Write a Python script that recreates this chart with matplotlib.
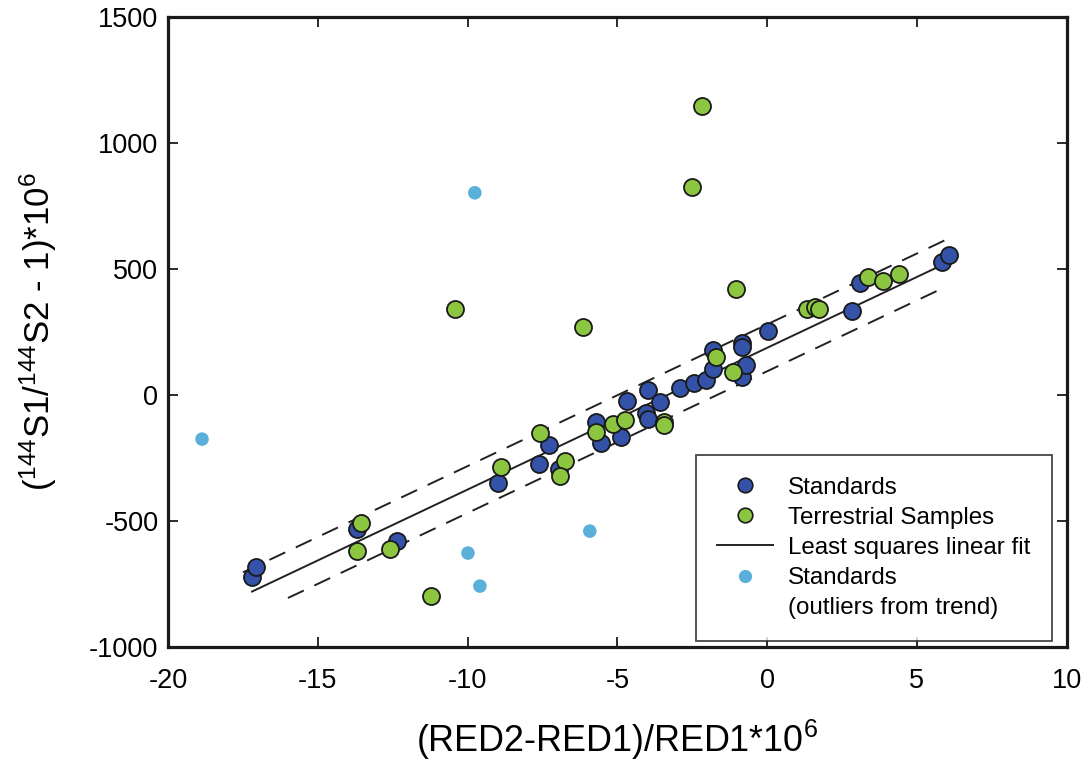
import numpy as np
import matplotlib
matplotlib.use('Agg')
import matplotlib.pyplot as plt
from matplotlib.lines import Line2D

plt.rcParams['font.family'] = ['Liberation Sans', 'DejaVu Sans']
plt.rcParams['mathtext.fontset'] = 'custom'
plt.rcParams['mathtext.rm'] = 'Liberation Sans'
plt.rcParams['mathtext.it'] = 'Liberation Sans:italic'
plt.rcParams['mathtext.bf'] = 'Liberation Sans:bold'
plt.rcParams['axes.unicode_minus'] = False

# 标准样品
std_x = [-17.2, -17.06, -13.69, -12.36, -8.99, -7.62, -7.29, -6.95, -5.72, -5.55,
         -4.88, -4.68, -4.05, -3.98, -3.98, -3.58, -2.92, -2.45, -2.05, -1.81,
         -1.81, -0.85, -0.85, -0.85, -0.71, 0.02, 2.82, 3.09, 5.83, 6.06]
std_y = [-722, -683, -532, -579, -349, -274, -198, -294, -107, -190,
         -167, -24, -71, -95, 20, -28, 28, 48, 60, 179,
         103, 206, 192, 71, 119, 254, 333, 444, 528, 556]

# 地球样品
grn_x = [-13.56, -13.69, -12.59, -11.22, -10.42, -8.89, -7.59, -6.75, -6.92, -6.15,
         -5.72, -5.15, -4.75, -3.45, -3.45, -2.52, -2.18, -1.72, -1.15, -1.05,
         1.32, 1.59, 1.72, 3.36, 3.86, 4.39]
grn_y = [-508, -619, -611, -798, 341, -286, -151, -262, -321, 270,
         -147, -115, -99, -107, -119, 825, 1147, 151, 91, 421,
         341, 349, 341, 468, 452, 480]

# 离群点
out_x = [-18.87, -9.76, -5.92, -9.99, -9.59]
out_y = [-175, 802, -540, -627, -758]

# 拟合直线
fit_slope = 56.2
fit_intercept = 187
band = 93
fit_range = [-17.2, 6.0]
upper_range = [-17.5, 6.0]
lower_range = [-16.0, 6.0]

c_std = '#3352a8'
c_grn = '#8cc640'
c_out = '#5ab0d8'

fig = plt.figure(figsize=(10.85, 7.64), dpi=100)
ax = fig.add_axes([0.155, 0.153, 0.828, 0.825])

xf = np.array(fit_range)
ax.plot(xf, fit_slope * xf + fit_intercept, color='#222222', lw=1.4, zorder=2)
xu = np.array(upper_range)
ax.plot(xu, fit_slope * xu + fit_intercept + band, color='#222222', lw=1.4,
        dashes=(9, 6), zorder=2)
xl = np.array(lower_range)
ax.plot(xl, fit_slope * xl + fit_intercept - band, color='#222222', lw=1.4,
        dashes=(9, 6), zorder=2)

ax.scatter(std_x, std_y, s=150, c=c_std, edgecolors='#1a1a1a', linewidths=1.3, zorder=3)
ax.scatter(grn_x, grn_y, s=150, c=c_grn, edgecolors='#1a1a1a', linewidths=1.3, zorder=4)
ax.scatter(out_x, out_y, s=95, c=c_out, edgecolors='none', zorder=3)

ax.set_xlim(-20, 10)
ax.set_ylim(-1000, 1500)
ax.set_xticks([-20, -15, -10, -5, 0, 5, 10])
ax.set_yticks([-1000, -500, 0, 500, 1000, 1500])

for s in ax.spines.values():
    s.set_linewidth(2.3)
    s.set_color('#1a1a1a')
ax.tick_params(direction='in', length=7, width=1.3, labelsize=19.5,
               top=True, right=True, color='#1a1a1a')
ax.tick_params(axis='x', pad=15)
ax.tick_params(axis='y', pad=7)

ax.set_xlabel(r'(RED2-RED1)/RED1*10$^{6}$', fontsize=25.8, labelpad=17)
ax.set_ylabel(r'($^{144}$S1/$^{144}$S2 - 1)*10$^{6}$', fontsize=25, labelpad=22)

handles = [
    Line2D([], [], ls='none', marker='o', markersize=10.5, markerfacecolor=c_std,
           markeredgecolor='#1a1a1a', markeredgewidth=1.2),
    Line2D([], [], ls='none', marker='o', markersize=10.5, markerfacecolor=c_grn,
           markeredgecolor='#1a1a1a', markeredgewidth=1.2),
    Line2D([], [], color='#222222', lw=1.4),
    Line2D([], [], ls='none', marker='o', markersize=9.5, markerfacecolor=c_out,
           markeredgecolor='none'),
    Line2D([], [], ls='none'),
]
labels = ['Standards', 'Terrestrial Samples', 'Least squares linear fit',
          'Standards', '(outliers from trend)']
leg = ax.legend(handles, labels, loc='lower right', bbox_to_anchor=(0.984, 0.0095),
                borderaxespad=0, fontsize=17.4, frameon=True, fancybox=False,
                handlelength=2.3, handletextpad=0.62, labelspacing=0.34,
                borderpad=0.9, edgecolor='#1a1a1a')
leg.get_frame().set_linewidth(1.3)

plt.savefig('out.png')
